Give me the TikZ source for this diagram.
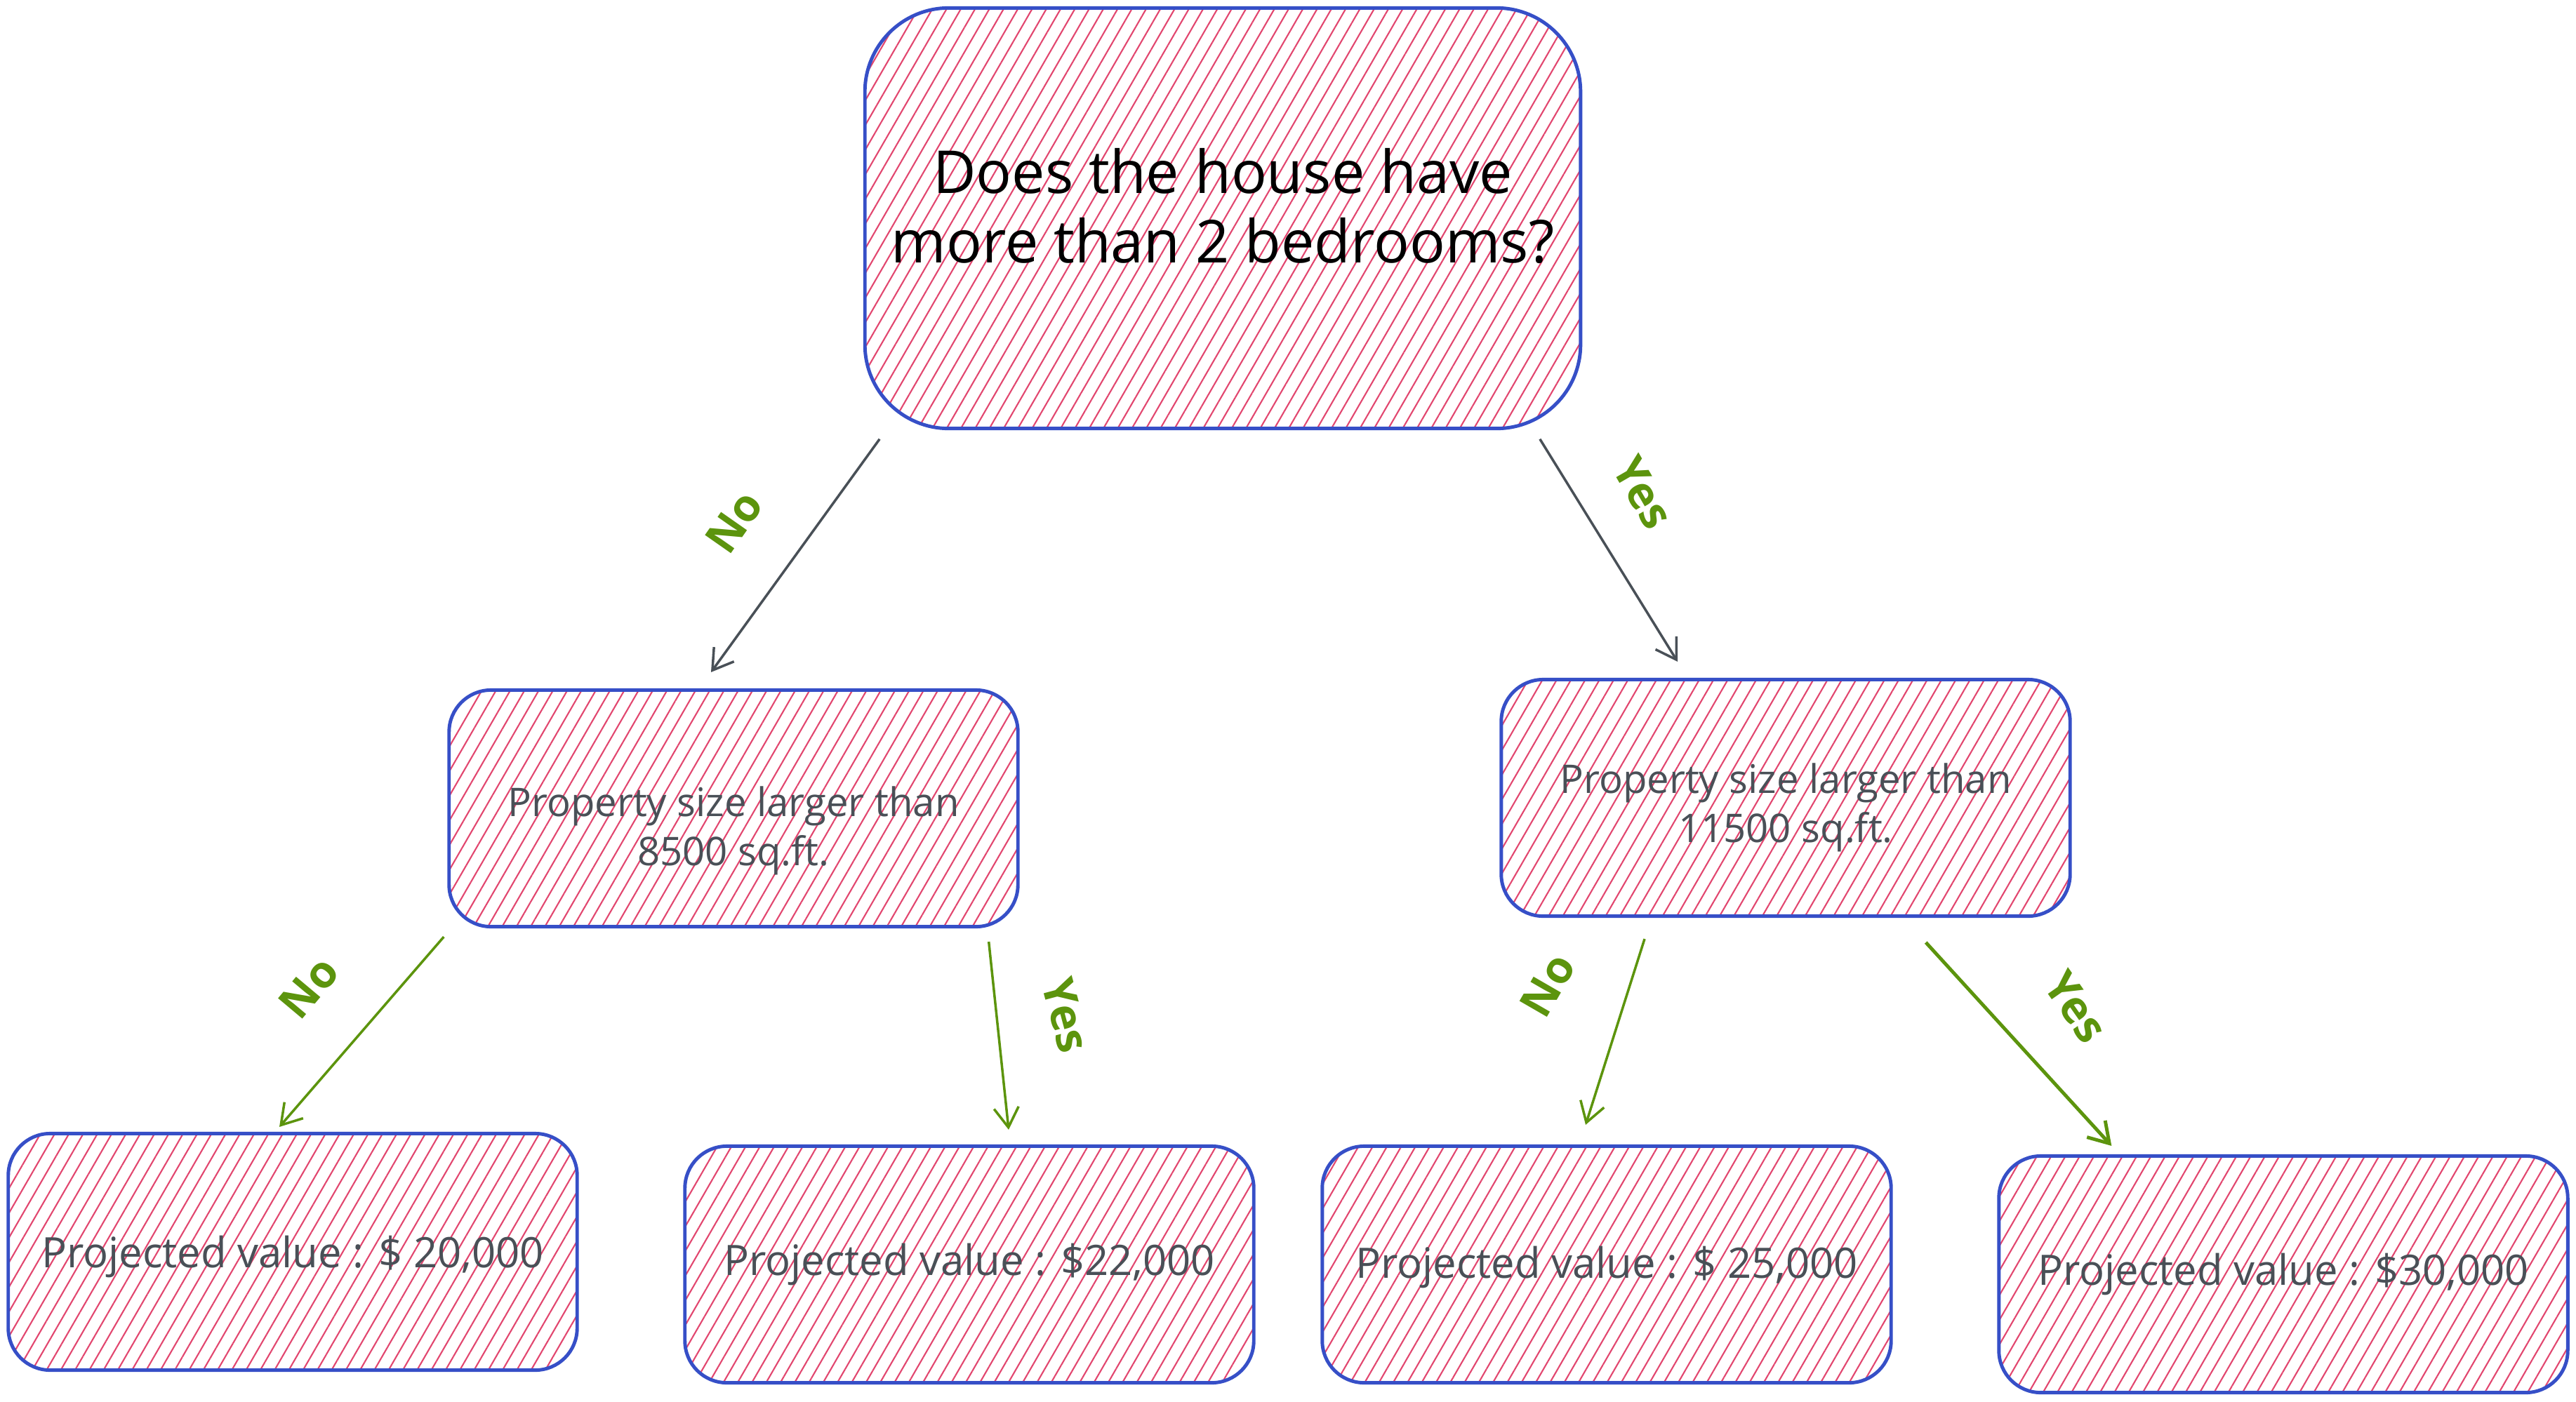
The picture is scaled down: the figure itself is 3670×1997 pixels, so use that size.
\documentclass[tikz,border=0pt]{standalone}
\usepackage{fontspec}
\setmainfont{Open Sans}
\usetikzlibrary{patterns.meta,arrows.meta}

\definecolor{edgeblue}{HTML}{364FC7}
\definecolor{hatchred}{HTML}{E2466F}
\definecolor{inkgray}{HTML}{495057}
\definecolor{leafgreen}{HTML}{5C940D}

\begin{document}
\begin{tikzpicture}
[x=0.01cm,y=-0.01cm,
box/.style={draw=edgeblue,line width=1.4pt,rounded corners=17pt,
  pattern={Lines[angle=60,distance=5pt,line width=0.6pt]},pattern color=hatchred,
  minimum width=8.1cm,minimum height=3.37cm},
question/.style={box,rounded corners=34pt,minimum width=10.19cm,minimum height=5.99cm},
says/.style={align=center,text=inkgray,font=\fontsize{16}{20}\selectfont},
asks/.style={align=center,text=black,font=\fontsize{24}{28}\selectfont},
value/.style={text=inkgray,font=\fontsize{17}{20}\selectfont},
link/.style={line width=1pt,-{Straight Barb[length=8pt,width=10pt]}},
grey link/.style={link,draw=inkgray},
green link/.style={link,draw=leafgreen},
answer/.style={text=leafgreen,font=\fontsize{18}{20}\selectfont\bfseries}]
\useasboundingbox (0,0) rectangle (3670,1997);
% the question and the two size tests
\node [question,label={[asks,yshift=5pt]center:Does the house have\\more than 2 bedrooms?}] (rooms) at (1742,311) {};
\node [box,label={[says,yshift=-9pt]center:Property size larger than\\8500 sq.ft.}] (small) at (1045,1152) {};
\node [box,label={[says,yshift=-4pt]center:Property size larger than\\11500 sq.ft.}] (large) at (2544,1137) {};
% projected values
\node [box,label={[value,yshift=-2pt]center:Projected value : \$ 20,000}] (v20) at (417,1784) {};
\node [box,label={[value]center:Projected value : \$22,000}] (v22) at (1381,1802) {};
\node [box,label={[value,yshift=-1pt]center:Projected value : \$ 25,000}] (v25) at (2289,1802) {};
\node [box,label={[value]center:Projected value : \$30,000}] (v30) at (3253,1816) {};
% branches
\draw [grey link] ([shift={(22,14)}]rooms.south west) -- ([shift={(-32,-23)}]small.north);
\draw [grey link] ([shift={(-59,14)}]rooms.south east) -- ([shift={(-154,-23)}]large.north);
\draw [green link] ([shift={(-5,12)}]small.south west) -- ([shift={(-19,-7)}]v20.north);
\draw [green link] ([shift={(-44,19)}]small.south east) -- ([shift={(56,-21)}]v22.north);
\draw [green link] ([shift={(-201,30)}]large.south) -- ([shift={(-30,-28)}]v25.north);
\draw [green link,line width=1.4pt] ([shift={(-208,35)}]large.south east) -- ([shift={(163,-12)}]v30.north west);
% answers
\node [answer,rotate=55] (no1) at (1046,744) {No};
\node [answer,rotate=-60] (yes1) at (2341,702) {Yes};
\node [answer,rotate=50] (no2) at (440,1407) {No};
\node [answer,rotate=-75] (yes2) at (1519,1447) {Yes};
\node [answer,rotate=60] (no3) at (2205,1404) {No};
\node [answer,rotate=-55] (yes3) at (2958,1435) {Yes};
\end{tikzpicture}
\end{document}
